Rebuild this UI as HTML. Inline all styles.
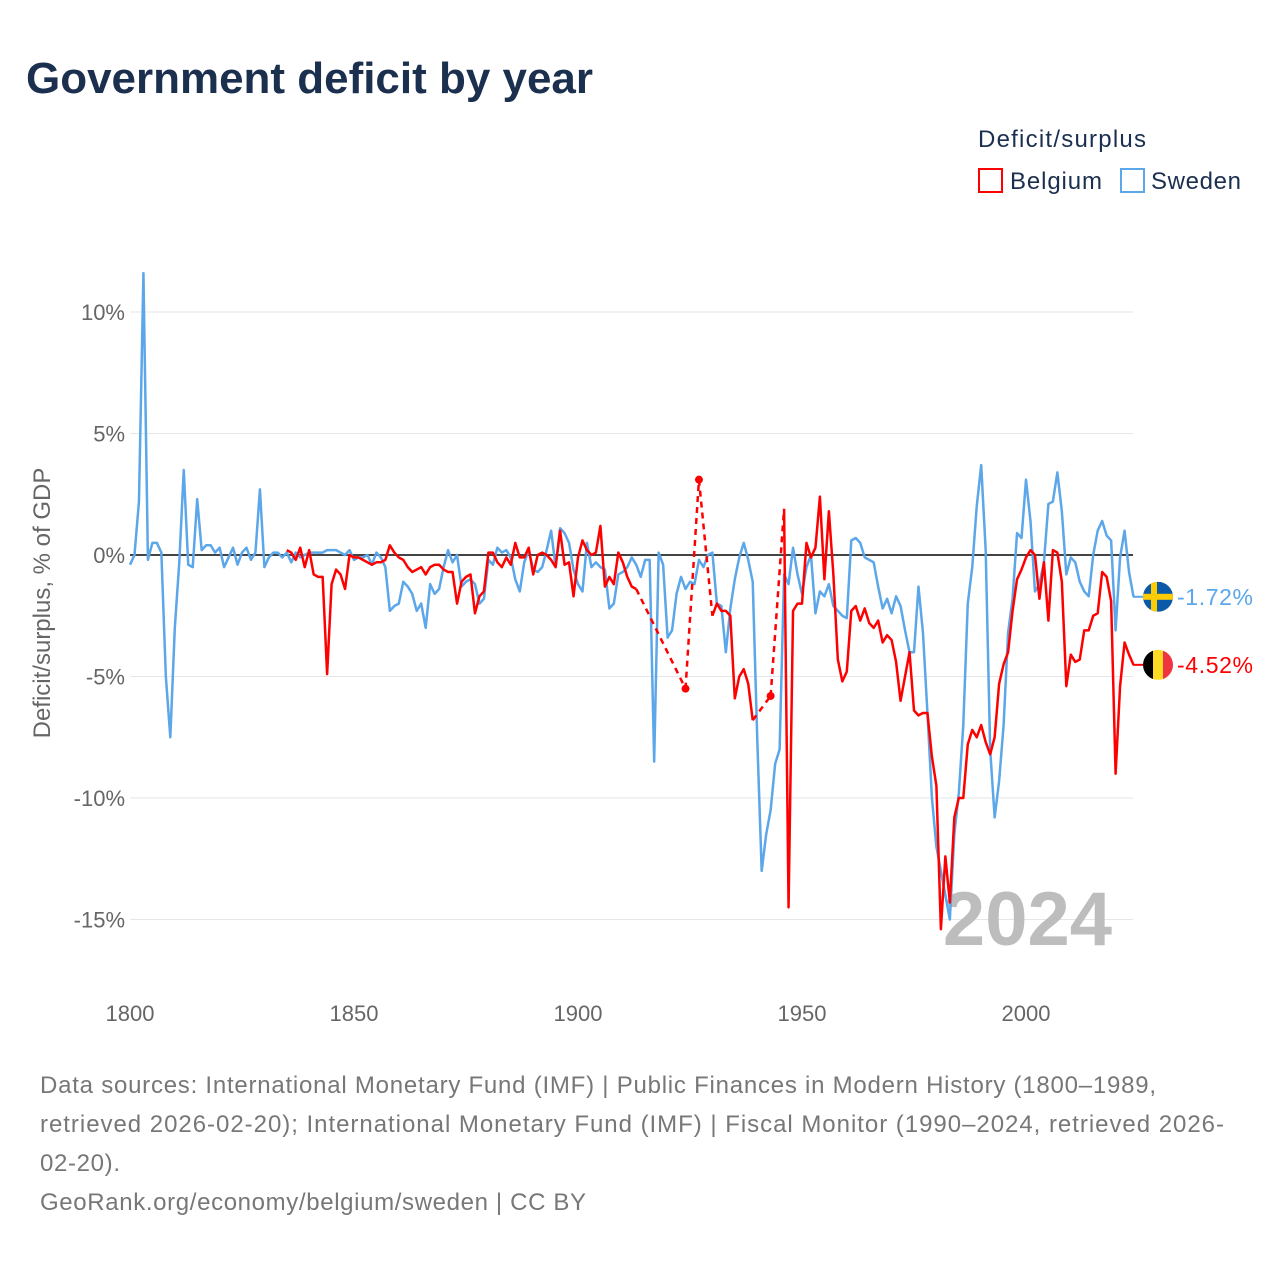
<!DOCTYPE html>
<html><head><meta charset="utf-8"><style>
body{margin:0;background:#fff;font-family:"Liberation Sans",sans-serif;}
</style></head><body>
<svg width="1280" height="1280" viewBox="0 0 1280 1280" xmlns="http://www.w3.org/2000/svg">
<text x="26" y="93" font-size="44" font-weight="bold" fill="#1b2f4e" textLength="567" lengthAdjust="spacingAndGlyphs">Government deficit by year</text>
<text x="978" y="147" font-size="24" fill="#1b2f4e" textLength="168">Deficit/surplus</text>
<g><rect x="979" y="169" width="23" height="23" fill="none" stroke="#f00" stroke-width="2"/><text x="1010" y="189" font-size="24" fill="#1b2f4e" textLength="92">Belgium</text></g>
<g><rect x="1121" y="169" width="23" height="23" fill="none" stroke="#5ca6ea" stroke-width="2"/><text x="1151" y="189" font-size="24" fill="#1b2f4e" textLength="90">Sweden</text></g>
<text transform="translate(50,603) rotate(-90)" text-anchor="middle" font-size="24" fill="#666">Deficit/surplus, % of GDP</text>
<g id="grid"></g>
<text x="1112" y="945" text-anchor="end" font-size="76" font-weight="bold" fill="#bdbdbd">2024</text>
<g id="series"></g>
<g id="labels"></g>
<text font-size="24" fill="#777">
<tspan x="40" y="1093" textLength="1116">Data sources: International Monetary Fund (IMF) | Public Finances in Modern History (1800–1989,</tspan>
<tspan x="40" y="1132" textLength="1184">retrieved 2026-02-20); International Monetary Fund (IMF) | Fiscal Monitor (1990–2024, retrieved 2026-</tspan>
<tspan x="40" y="1171" textLength="80">02-20).</tspan>
<tspan x="40" y="1210" textLength="546">GeoRank.org/economy/belgium/sweden | CC BY</tspan>
</text>
</svg>
<script>
const yTicks=[10,5,0,-5,-10,-15];
const xTicks=[1800,1850,1900,1950,2000];
const swedenStart=1800;
const sweden=[-0.4,0,2.2,11.6,-0.2,0.5,0.5,0.1,-5,-7.5,-3,-0.3,3.5,-0.4,-0.5,2.3,0.2,0.4,0.4,0.1,0.3,-0.5,-0.1,0.3,-0.4,0.1,0.3,-0.2,0.1,2.7,-0.5,-0.1,0.1,0.1,-0.1,
0.1,-0.3,0.1,-0.1,0,0.1,0.1,0.1,0.1,0.2,0.2,0.2,0.1,0,0.2,-0.2,-0.1,-0.1,0,-0.4,0.1,-0.1,-0.5,-2.3,-2.1,-2.0,-1.1,-1.3,-1.6,-2.3,-2.0,-3.0,-1.2,-1.6,-1.4,-0.5,0.2,-0.3,0,-1.3,-1.1,-1.0,-1.2,-2.0,-1.8,-0.2,-0.4,0.3,0.1,0.2,-0.1,-1.0,-1.5,-0.3,0.2,-0.6,-0.7,-0.5,0.2,1.0,-0.5,1.1,0.9,0.5,-0.6,
-1.2,-1.5,0.5,-0.5,-0.3,-0.5,-0.6,-2.2,-2.0,-0.8,-0.7,-0.5,-0.1,-0.4,-0.9,-0.2,-0.2,-8.5,0.1,-0.4,-3.4,-3.1,-1.6,-0.9,-1.4,-1.1,-1.2,-0.2,-0.5,0.0,0.1,-2.0,-2.1,-4.0,-2.2,-1.0,-0.1,0.5,-0.2,-1.1,-7.5,-13.0,-11.5,-10.5,-8.6,-8.0,-0.8,-1.2,0.3,-0.8,
-1.6,-0.5,0.0,-2.4,-1.5,-1.7,-1.2,-2.1,-2.3,-2.5,-2.6,0.6,0.7,0.5,-0.1,-0.2,-0.3,-1.3,-2.2,-1.8,-2.4,-1.7,-2.1,-3.1,-4.0,-4.0,-1.3,-3.2,-6.5,-10.0,-12.0,-13.0,-14.0,-15.0,-11.5,-9.8,-7.0,-2.0,-0.5,2.0,
3.7,0.2,-8.0,-10.8,-9.3,-7.0,-3.2,-1.8,0.9,0.7,3.1,1.4,-1.5,-1.2,-0.3,2.1,2.2,3.4,1.8,-0.8,-0.1,-0.3,-1.1,-1.5,-1.7,0.0,1.0,1.4,0.8,0.6,-3.1,-0.1,1.0,-0.7,-1.72];
const belgiumStart=1835;
const belgium=[0.2,0.1,-0.2,0.3,-0.5,0.2,-0.8,-0.9,-0.9,-4.9,-1.2,-0.6,-0.8,-1.4,0.0,-0.1,-0.1,-0.2,-0.3,-0.4,-0.3,-0.3,-0.2,0.4,0.1,-0.1,-0.2,-0.5,-0.7,-0.6,-0.5,-0.8,-0.5,-0.4,-0.4,-0.6,-0.7,-0.7,-2.0,-1.1,-0.9,-0.8,-2.4,-1.7,-1.5,0.1,0.1,-0.3,-0.5,-0.1,-0.4,0.5,-0.1,-0.1,0.3,-0.8,0.0,0.1,0.0,-0.2,-0.5,1.0,-0.4,-0.3,-1.7,
-0.1,0.6,0.2,0.0,0.1,1.2,-1.3,-0.9,-1.2,0.1,-0.3,-0.9,-1.3,-1.4,null,null,null,null,null,null,null,null,null,null,-5.5,null,null,3.1,null,null,-2.5,-2.0,-2.3,-2.3,-2.5,-5.9,-5.0,-4.7,-5.3,-6.8,null,null,null,-5.8,null,null,1.9,-14.5,-2.3,-2.0,
-2.0,0.5,-0.1,0.3,2.4,-1.0,1.8,-0.8,-4.3,-5.2,-4.8,-2.3,-2.1,-2.7,-2.2,-2.8,-3.0,-2.7,-3.6,-3.3,-3.5,-4.4,-6.0,-5.0,-4.0,-6.4,-6.6,-6.5,-6.5,-8.3,-9.5,-15.4,-12.4,-14.3,-10.8,-10.0,-10.0,-7.8,-7.2,-7.5,
-7.0,-7.7,-8.2,-7.5,-5.3,-4.5,-4.0,-2.3,-1.0,-0.6,-0.1,0.2,0.0,-1.8,-0.3,-2.7,0.2,0.1,-1.1,-5.4,-4.1,-4.4,-4.3,-3.1,-3.1,-2.5,-2.4,-0.7,-0.9,-1.9,-9.0,-5.4,-3.6,-4.1,-4.52];
const NS='http://www.w3.org/2000/svg';
const X=y=>130+(y-1800)*4.48;
const Y=v=>555-v*24.3;
function mk(tag,attrs,parent){const e=document.createElementNS(NS,tag);for(const k in attrs)e.setAttribute(k,attrs[k]);parent.appendChild(e);return e;}
const grid=document.getElementById('grid');
yTicks.forEach(t=>{
  if(t!==0){const l=mk('line',{x1:130,x2:1133,y1:Y(t),y2:Y(t),stroke:'#e6e6e6','stroke-width':1},grid);
  
  }
  const tx=mk('text',{x:125,y:Y(t)+8,'text-anchor':'end','font-size':22,fill:'#666'},grid);
  tx.textContent=t+'%';
  
  
});
xTicks.forEach(t=>{
  const tx=mk('text',{x:X(t),y:1021,'text-anchor':'middle','font-size':22,fill:'#666'},grid);
  tx.textContent=t;
  
  
});
const zl=mk('line',{x1:130,x2:1133,y1:Y(0),y2:Y(0),stroke:'#444','stroke-width':2},grid);


const ser=document.getElementById('series');
function draw(data,start,color,name){
  const g=mk('g',{},ser);
  
  
  const pts=data.map((v,i)=>v===null?null:[X(start+i),Y(v),i]);
  const valid=pts.filter(p=>p);
  let d='';let prev=null;
  valid.forEach(p=>{
    if(prev&&p[2]===prev[2]+1)d+='L'+p[0]+' '+p[1];else d+='M'+p[0]+' '+p[1];
    if(prev&&p[2]!==prev[2]+1){
      const dl=mk('line',{x1:prev[0],y1:prev[1],x2:p[0],y2:p[1],stroke:color,'stroke-width':2.5,'stroke-dasharray':'6,5'},g);
      
      
    }
    prev=p;
  });
  const path=mk('path',{d:d,fill:'none',stroke:color,'stroke-width':2.5,'stroke-linejoin':'round'},g);
  
  
  valid.forEach(p=>{
    const i=p[2];
    const iso=(i===0||data[i-1]===null)&&(i===data.length-1||data[i+1]===null);
    if(iso){const c=mk('circle',{cx:p[0],cy:p[1],r:4,fill:color},g);
      
      }
  });
}
draw(sweden,swedenStart,'#5ca6ea','sweden');
draw(belgium,belgiumStart,'#ff0000','belgium');
const lab=document.getElementById('labels');
function endLabel(v,color,name,flag){
  const cy=Y(v);
  const g=mk('g',{},lab);
  
  
  mk('line',{x1:1133,x2:1145,y1:cy,y2:cy,stroke:color,'stroke-width':2},g);
  const cp=mk('clipPath',{id:'c'+name},g);mk('circle',{cx:1158,cy:cy,r:15},cp);
  const fg=mk('g',{'clip-path':'url(#c'+name+')'},g);
  flag(fg,cy);
  const t=mk('text',{x:1177,y:cy+8,'font-size':23,fill:color,textLength:76},g);
  t.textContent=v.toFixed(2)+'%';
}
endLabel(sweden[sweden.length-1],'#5ca6ea','sweden',(fg,cy)=>{
  mk('rect',{x:1143,y:cy-15,width:30,height:30,fill:'#0a5aa8'},fg);
  mk('rect',{x:1143,y:cy-3,width:30,height:6,fill:'#fecc02'},fg);
  mk('rect',{x:1151,y:cy-15,width:6,height:30,fill:'#fecc02'},fg);
});
endLabel(belgium[belgium.length-1],'#ff0000','belgium',(fg,cy)=>{
  mk('rect',{x:1143,y:cy-15,width:10,height:30,fill:'#000'},fg);
  mk('rect',{x:1153,y:cy-15,width:10,height:30,fill:'#fdda24'},fg);
  mk('rect',{x:1163,y:cy-15,width:10,height:30,fill:'#ef3340'},fg);
});
</script>
</body></html>
